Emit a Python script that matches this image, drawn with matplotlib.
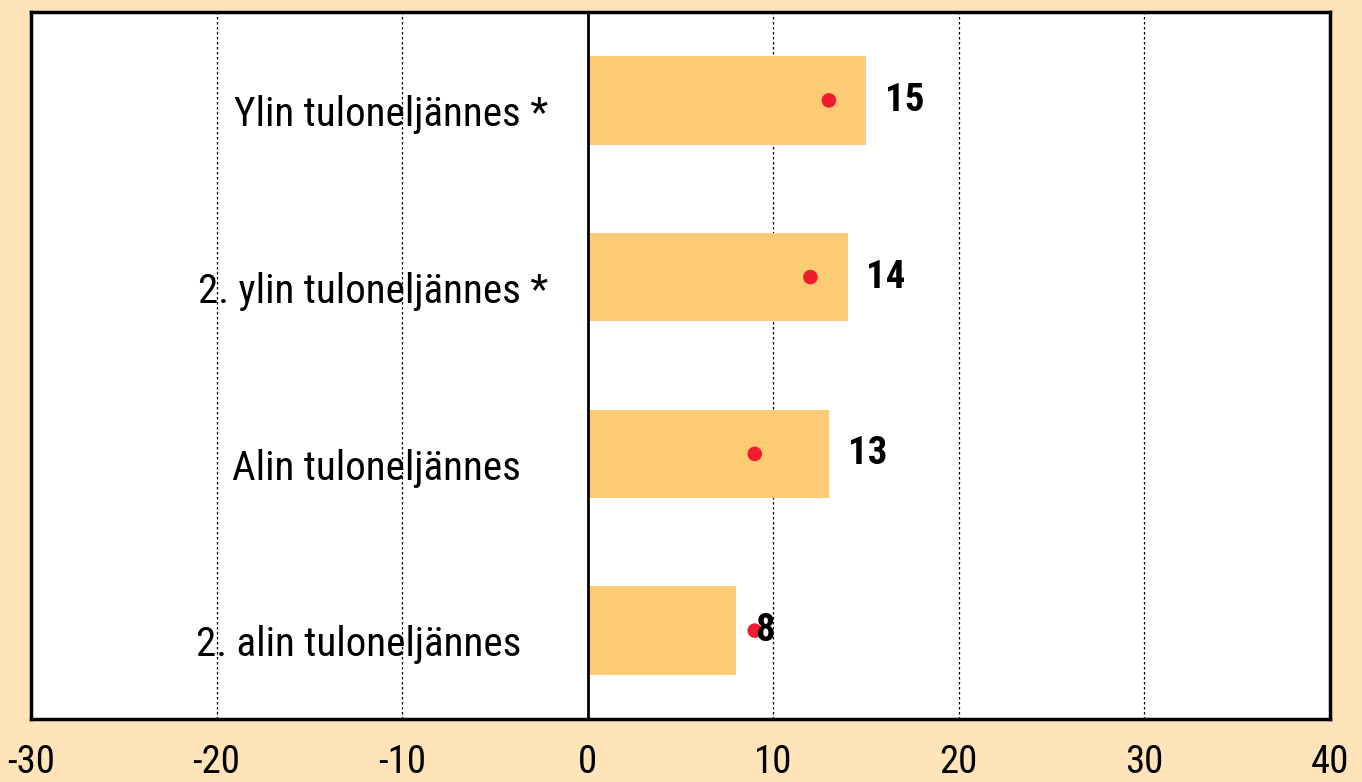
import matplotlib
matplotlib.use("Agg")
import matplotlib.pyplot as plt
from matplotlib import font_manager

categories = ["2. alin tuloneljännes", "Alin tuloneljännes", "2. ylin tuloneljännes *", "Ylin tuloneljännes *"]
bar_values = [8, 13, 14, 15]
dot_values = [9, 9, 12, 13]
xticks = [-30, -20, -10, 0, 10, 20, 30, 40]

names = {f.name for f in font_manager.fontManager.ttflist}
cond = "DejaVu Sans"
for cand in ["Roboto Condensed", "IBM Plex Sans Condensed", "Sofia Sans Condensed", "Archivo Narrow"]:
    if cand in names:
        cond = cand
        break
fam = [cond, "DejaVu Sans"]

bg = "#FEE4B8"
fig = plt.figure(figsize=(13.62, 7.82), dpi=100, facecolor=bg)
ax = fig.add_axes([31/1362, 1-719/782, (1330-31)/1362, (719-12)/782])
ax.set_facecolor("white")

y = range(len(categories))
ax.barh(y, bar_values, height=0.5, color="#FDCB74", zorder=2)
ax.scatter(dot_values, y, s=110, color="#EE1C2E", zorder=4, edgecolors="none")
for yi, v in zip(y, bar_values):
    ax.text(v + 1, yi, str(v), ha="left", va="center", fontsize=28, fontweight="bold",
            family=fam, zorder=5)
for yi, c in zip(y, categories):
    base, star = (c[:-2], " *") if c.endswith(" *") else (c, "")
    ax.text(-3.6, yi - 0.08, base, ha="right", va="center", fontsize=29.5,
            family=fam, zorder=5)
    if star:
        ax.text(-3.6, yi - 0.08, star, ha="left", va="center", fontsize=29.5,
                family=fam, zorder=5)

ax.set_xlim(-30, 40)
ax.set_ylim(-0.5, 3.5)
ax.set_xticks(xticks)
ax.set_xticklabels([str(t) for t in xticks], family=fam, fontsize=28)
ax.tick_params(axis="x", length=0, pad=18)
ax.set_yticks([])
for t in xticks:
    if t == 0:
        ax.axvline(0, color="black", lw=2, zorder=3)
    elif -30 < t < 40:
        ax.axvline(t, color="black", lw=0.9, ls=(0, (2, 2)), zorder=1)
for s in ax.spines.values():
    s.set_linewidth(2.5)
    s.set_color("black")

fig.savefig("out.png", dpi=100, facecolor=bg)
